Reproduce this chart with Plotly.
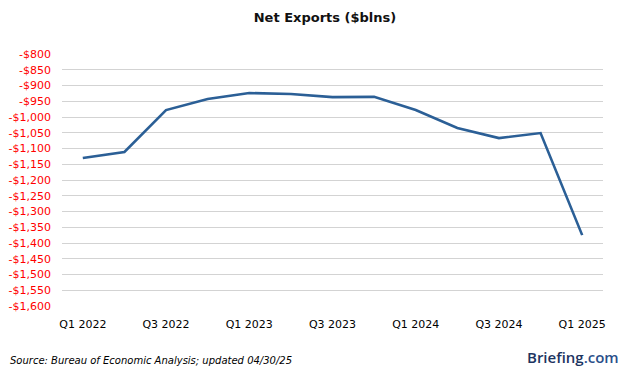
import plotly.graph_objects as go

quarters = ["Q1 2022", "Q2 2022", "Q3 2022", "Q4 2022",
            "Q1 2023", "Q2 2023", "Q3 2023", "Q4 2023",
            "Q1 2024", "Q2 2024", "Q3 2024", "Q4 2024", "Q1 2025"]
net_exports = [-1130, -1111, -978, -943, -924, -927, -937, -936,
               -978, -1035, -1067, -1051, -1375]

y_ticks = list(range(-800, -1601, -50))
y_tick_labels = ["-${:,}".format(-v) for v in y_ticks]
x_tick_labels = quarters[::2]

# page body has an 8px default margin, so the figure is sized/offset accordingly
W, H = 618, 371
ML, MR, MT, MB = 54, 23, 46, 73
PW, PH = W - ML - MR, H - MT - MB

fig = go.Figure()
fig.add_trace(go.Scatter(
    x=quarters, y=net_exports, mode="lines",
    line=dict(color="#2b5f96", width=2.6),
    hoverinfo="x+y",
))

fig.update_layout(
    width=W, height=H,
    margin=dict(l=ML, r=MR, t=MT, b=MB),
    paper_bgcolor="white", plot_bgcolor="white",
    showlegend=False,
    font=dict(family="DejaVu Sans", size=11, color="#000"),
    title=dict(text="<b>Net Exports ($blns)</b>", x=(325 - 8) / W, xanchor="center",
               y=1 - (17 - 8) / H, yanchor="middle",
               font=dict(family="DejaVu Sans", size=13, color="#111")),
    xaxis=dict(
        type="category", range=[-0.5, 12.5], automargin=False,
        tickmode="array", tickvals=x_tick_labels, ticktext=x_tick_labels,
        showgrid=False, zeroline=False, showline=False, ticks="",
        ticklabelstandoff=10,
        tickfont=dict(size=11, color="#000"),
    ),
    yaxis=dict(
        range=[-1600, -800], tickmode="array", tickvals=y_ticks, ticktext=y_tick_labels,
        automargin=False,
        showgrid=True, gridcolor="#d3d3d3", gridwidth=1, zeroline=False,
        showline=False, ticks="", ticklabelstandoff=10,
        tickfont=dict(size=11, color="#ff0000"),
    ),
)

fig.add_annotation(
    text="<i>Source: Bureau of Economic Analysis; updated 04/30/25</i>",
    xref="paper", yref="paper", x=-ML / PW, y=-(360 - 8 - MT - PH) / PH,
    xanchor="left", yanchor="middle",
    showarrow=False, font=dict(family="DejaVu Sans", size=10, color="#000"),
)
fig.add_annotation(
    text="<span style='color:#1d3461'>Briefing</span><span style='color:#2a4f8a'>.com</span>",
    xref="paper", yref="paper", x=(621 - 8 - ML) / PW, y=-(357 - 8 - MT - PH) / PH,
    xanchor="right", yanchor="middle",
    showarrow=False, font=dict(family="Open Sans", size=15, weight=600, color="#1d3461"),
)

fig.write_html("out.html")
